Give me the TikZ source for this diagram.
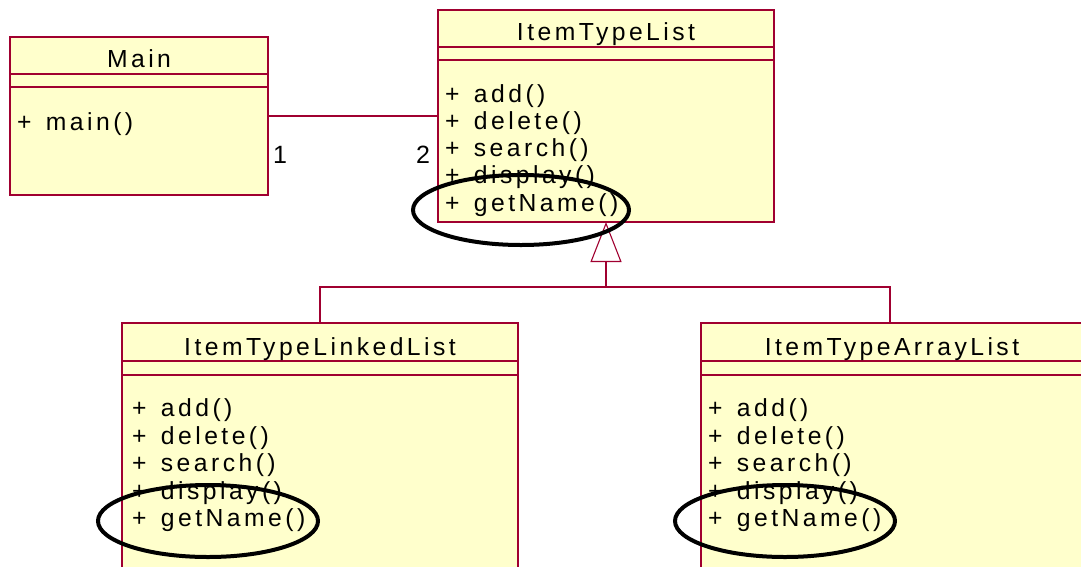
\documentclass[tikz,border=0pt]{standalone}
\usepackage{fontspec}
\setmainfont{Liberation Sans}
\newfontfamily\umlfont[LetterSpace=14]{Liberation Sans}
\usetikzlibrary{arrows.meta}
\definecolor{clsfill}{RGB}{255,255,204}
\definecolor{clsline}{RGB}{160,0,48}
\newcommand{\opsep}{+\hspace{4pt} }
\tikzset{
  cls/.style={draw=clsline, fill=clsfill, line width=1.1pt, rectangle,
    inner sep=0, outer sep=0, anchor=north west},
  divider/.style={draw=clsline, line width=1.1pt},
  title/.style={font=\umlfont\fontsize{24.7}{27}\selectfont, inner sep=0, anchor=base},
  member/.style={font=\umlfont\fontsize{24.7}{27}\selectfont, inner sep=0, anchor=base west},
  mult/.style={font=\fontsize{25}{27}\selectfont, inner sep=0, anchor=base},
  assoc/.style={draw=clsline, line width=1.1pt},
  gen/.style={draw=clsline, line width=1.1pt,
    -{Triangle[open, length=40pt, width=31pt, fill=white]}},
  ring/.style={draw=black, line width=4pt}
}
\begin{document}
\begin{tikzpicture}[x=1pt,y=-1pt]
\useasboundingbox (0,0) rectangle (1081,566);
\clip (0,0) rectangle (1081,566);

% class boxes
\node[cls, minimum width=258, minimum height=158] (main) at (10,37) {};
\node[cls, minimum width=336, minimum height=212] (itl) at (438,10) {};
\node[cls, minimum width=396, minimum height=300] (ll) at (122,323) {};
\node[cls, minimum width=385, minimum height=300] (al) at (701,323) {};

% compartment dividers
\draw[divider] ([yshift=-37]main.north west) -- ([yshift=-37]main.north east);
\draw[divider] ([yshift=-50]main.north west) -- ([yshift=-50]main.north east);
\draw[divider] ([yshift=-37]itl.north west) -- ([yshift=-37]itl.north east);
\draw[divider] ([yshift=-50]itl.north west) -- ([yshift=-50]itl.north east);
\draw[divider] ([yshift=-38]ll.north west) -- ([yshift=-38]ll.north east);
\draw[divider] ([yshift=-52]ll.north west) -- ([yshift=-52]ll.north east);
\draw[divider] ([yshift=-38]al.north west) -- ([yshift=-38]al.north east);
\draw[divider] ([yshift=-52]al.north west) -- ([yshift=-52]al.north east);

% class names
\node[title] (mainT) at ([yshift=-30]main.north) {Main};
\node[title] (itlT) at ([yshift=-30]itl.north) {ItemTypeList};
\node[title] (llT) at ([yshift=-32]ll.north) {ItemTypeLinkedList};
\node[title] (alT) at ([yshift=-32]al.north -| 892,0) {ItemTypeArrayList};

% operations
\node[member] (mainM1) at (17,130.5) {\opsep main()};
\foreach \op [count=\i] in {add(),delete(),search(),display(),getName()} {
  \node[member] (itlM\i) at (445,{102+27.3*(\i-1)}) {\opsep \op};
  \node[member] (llM\i) at (132,{416.5+27.6*(\i-1)}) {\opsep \op};
  \node[member] (alM\i) at (708,{416.5+27.6*(\i-1)}) {\opsep \op};
}

% association with multiplicities
\draw[assoc] (main.east) -- (itl.west);
\node[mult] (m1) at (280,163) {1};
\node[mult] (m2) at (423,163) {2};

% generalization tree
\coordinate (join) at (itl.south |- 0,287);
\coordinate (alTop) at (890,323);
\draw[assoc] (ll.north) |- (join) -| (alTop);
\draw[gen] (join) -- (itl.south);

% highlight rings
\draw[ring] (521,210) ellipse [x radius=108pt, y radius=35pt];
\draw[ring] (208,521) ellipse [x radius=110pt, y radius=36pt];
\draw[ring] (785,521) ellipse [x radius=110pt, y radius=36pt];
\end{tikzpicture}
\end{document}
